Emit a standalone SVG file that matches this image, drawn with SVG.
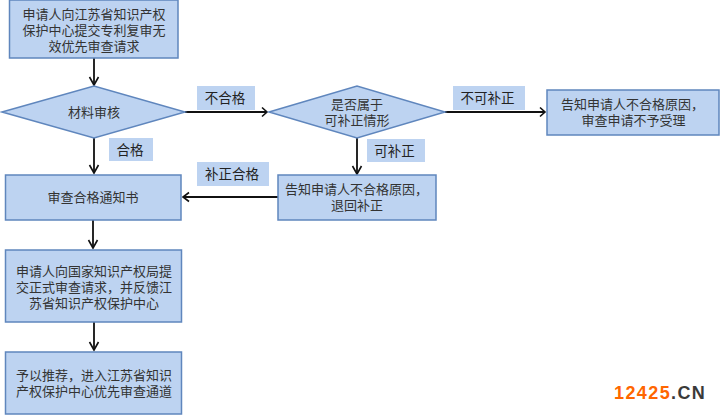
<svg xmlns="http://www.w3.org/2000/svg" width="720" height="415" viewBox="0 0 720 415">
<style>
.n{fill:#bdd3f1;stroke:#5f86bd;stroke-width:1.5}
.l{fill:#bdd3f1}
.t{font-family:"Liberation Sans","Noto Sans CJK SC",sans-serif;font-size:13px;fill:#333;text-anchor:middle}
.b{font-size:13.500px;fill:#222}
.c{fill:none;stroke:#111;stroke-width:1.8}
.a{fill:none;stroke:#111;stroke-width:1.6}
</style>
<rect width="720" height="415" fill="#fff"/>
<g id="connectors">
<path class="c" d="M94 58V85M94 138V173M185 112H267M357 138V174M278 197H183M445 112H545M93 220V248M94 322V350"/>
<path class="a" d="M89.500 77L94 85L98.500 77M89.500 165L94 173L98.500 165M262 107.500L267 112L262 116.500M352.500 166L357 174L361.500 166M189 192.500L183 197L189 201.500M540 107.500L545 112L540 116.500M88.500 240L93 248L97.500 240M89.500 342L94 350L98.500 342"/>
</g>
<g id="start"><rect class="n" x="9.500" y="0" width="168.500" height="58"/><text class="t" x="94" y="19">申请人向江苏省知识产权</text><text class="t" x="94" y="35">保护中心提交专利复审无</text><text class="t" x="94" y="51">效优先审查请求</text></g>
<g id="review"><polygon class="n" points="2,112 94,86 185,112 94,138"/><text class="t" x="94" y="117">材料审核</text></g>
<g id="correctable"><polygon class="n" points="269,112 357,86 445,112 357,138"/><text class="t" x="357" y="109">是否属于</text><text class="t" x="357" y="125">可补正情形</text></g>
<g id="reject"><rect class="n" x="547" y="90" width="172" height="45"/><text class="t" x="632.500" y="109">告知申请人不合格原因，</text><text class="t" x="633.500" y="125">审查申请不予受理</text></g>
<g id="notice"><rect class="n" x="5.500" y="175" width="175.500" height="45"/><text class="t" x="93" y="202">审查合格通知书</text></g>
<g id="return"><rect class="n" x="278" y="175" width="158" height="45"/><text class="t" x="356.500" y="194">告知申请人不合格原因，</text><text class="t" x="357" y="210">退回补正</text></g>
<g id="formal"><rect class="n" x="5.500" y="250" width="176" height="72"/><text class="t" x="94" y="276">申请人向国家知识产权局提</text><text class="t" x="94" y="292">交正式审查请求，并反馈江</text><text class="t" x="94" y="308">苏省知识产权保护中心</text></g>
<g id="recommend"><rect class="n" x="5.500" y="352" width="176" height="62"/><text class="t" x="94" y="380">予以推荐，进入江苏省知识</text><text class="t" x="94" y="396">产权保护中心优先审查通道</text></g>
<g id="label-fail"><rect class="l" x="197" y="86" width="58" height="24"/><text class="t b" x="225" y="103">不合格</text></g>
<g id="label-pass"><rect class="l" x="109" y="138" width="44" height="23"/><text class="t b" x="130" y="155">合格</text></g>
<g id="label-fixed"><rect class="l" x="197" y="162" width="72" height="24"/><text class="t b" x="232" y="179">补正合格</text></g>
<g id="label-nofix"><rect class="l" x="453" y="86" width="72" height="24"/><text class="t b" x="487.500" y="103">不可补正</text></g>
<g id="label-fix"><rect class="l" x="367" y="139" width="58" height="23"/><text class="t b" x="394.500" y="156">可补正</text></g>
<text x="614" y="399" font-family="Liberation Sans,sans-serif" font-size="18" font-weight="700" letter-spacing="1.400"><tspan fill="#f60">12425</tspan><tspan fill="#3a3a3a">.CN</tspan></text>
</svg>
